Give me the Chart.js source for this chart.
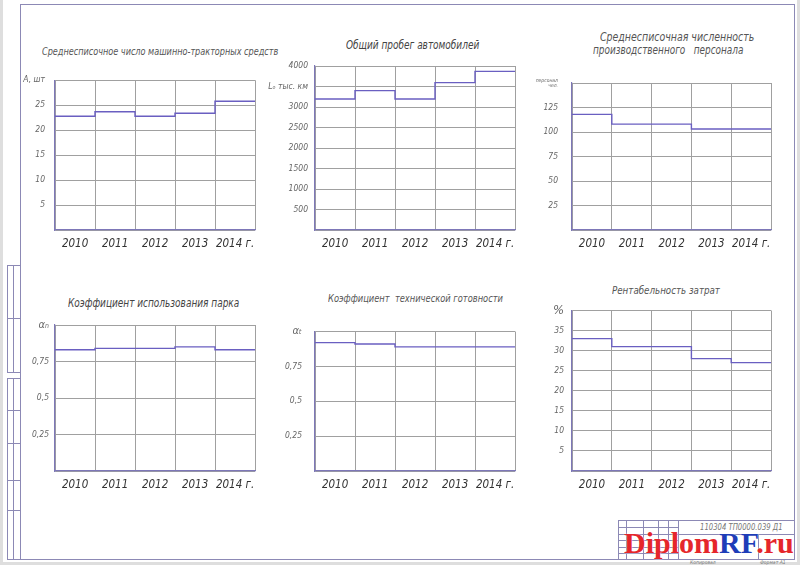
<!DOCTYPE html>
<html>
<head>
<meta charset="utf-8">
<script src="https://cdn.jsdelivr.net/npm/chart.js@4/dist/chart.umd.min.js"></script>
<style>
  html, body { margin: 0; padding: 0; }
  body { width: 800px; height: 565px; background: #dedede; position: relative; overflow: hidden; }
  #sheet { position: absolute; left: 3px; top: 0; width: 794px; height: 562px; background: #fff; }
  .ln { position: absolute; border: 0 solid #8c89b5; box-sizing: border-box; }
  .box { position: absolute; border: 1px solid #8c89b5; box-sizing: border-box; }
  .ttl { position: absolute; font-family: 'DejaVu Sans Condensed', 'Liberation Sans Narrow', sans-serif;
         font-style: italic; color: #555; white-space: nowrap; line-height: 14px; transform-origin: 0 0; }
  .cw { position: absolute; }
  .small { position: absolute; font-family: 'DejaVu Sans Condensed', sans-serif; font-style: italic; color: #777; white-space: nowrap; }
  #wm { position: absolute; left: 624px; top: 528px; font-family: 'Liberation Serif', serif; font-weight: bold;
        font-size: 30px; line-height: 30px; color: #e5262b; text-shadow: 0 0 2px #fff; white-space: nowrap; }
  #wm span { color: #1e3db8; }
</style>
</head>
<body>
<div id="sheet"></div>

<!-- drawing frame -->
<div class="box" style="left:20px;top:4px;width:775px;height:556px;"></div>
<!-- side stamp boxes -->
<div class="box" style="left:7px;top:265px;width:14px;height:108px;"></div>
<div class="ln" style="left:7px;top:318px;width:14px;border-top-width:1px;"></div>
<div class="ln" style="left:13px;top:265px;height:108px;border-left-width:1px;"></div>
<div class="box" style="left:7px;top:378px;width:14px;height:182px;"></div>
<div class="ln" style="left:7px;top:410px;width:14px;border-top-width:1px;"></div>
<div class="ln" style="left:7px;top:443px;width:14px;border-top-width:1px;"></div>
<div class="ln" style="left:7px;top:480px;width:14px;border-top-width:1px;"></div>
<div class="ln" style="left:7px;top:510px;width:14px;border-top-width:1px;"></div>
<div class="ln" style="left:13px;top:378px;height:182px;border-left-width:1px;"></div>
<!-- title block -->
<div class="box" style="left:618px;top:520px;width:177px;height:40px;"></div>
<div class="ln" style="left:626px;top:520px;height:40px;border-left-width:1px;"></div>
<div class="ln" style="left:643px;top:520px;height:40px;border-left-width:1px;"></div>
<div class="ln" style="left:658px;top:520px;height:40px;border-left-width:1px;"></div>
<div class="ln" style="left:668px;top:520px;height:40px;border-left-width:1px;"></div>
<div class="ln" style="left:678px;top:520px;height:40px;border-left-width:1px;"></div>
<div class="ln" style="left:618px;top:527px;width:60px;border-top-width:1px;"></div>
<div class="ln" style="left:618px;top:540px;width:60px;border-top-width:1px;"></div>
<div class="ln" style="left:618px;top:547px;width:60px;border-top-width:1px;"></div>
<div class="ln" style="left:618px;top:553px;width:60px;border-top-width:1px;"></div>
<div class="ln" style="left:618px;top:534px;width:177px;border-top-width:1px;"></div>
<div class="ln" style="left:758px;top:534px;height:26px;border-left-width:1px;"></div>
<div class="small" style="left:700px;top:522px;font-size:9px;transform:scaleX(0.85);transform-origin:0 0;">110304 ТП0000.039 Д1</div>
<div class="small" style="left:690px;top:559px;font-size:5px;">Копировал</div>
<div class="small" style="left:760px;top:559px;font-size:5px;">Формат А1</div>

<!-- chart titles: [centre x, top, font size, horizontal squeeze] -->
<div class="ttl" data-c="160,45,11,0.82">Среднесписочное число машинно-тракторных средств</div>
<div class="ttl" data-c="413,38,12,0.83" style="color:#444;">Общий пробег автомобилей</div>
<div class="ttl" data-c="677,30,11.5,0.91">Среднесписочная численность</div>
<div class="ttl" data-c="668,43,11.5,0.86">производственного&nbsp;&nbsp; персонала</div>
<div class="ttl" data-c="153,296,12,0.83" style="color:#444;">Коэффициент использования парка</div>
<div class="ttl" data-c="415,292,11,0.84">Коэффициент&nbsp; технической готовности</div>
<div class="ttl" data-c="666,284,11,0.88">Рентабельность затрат</div>

<div class="cw" id="w1"><canvas id="c1"></canvas></div>
<div class="cw" id="w2"><canvas id="c2"></canvas></div>
<div class="cw" id="w3"><canvas id="c3"></canvas></div>
<div class="cw" id="w4"><canvas id="c4"></canvas></div>
<div class="cw" id="w5"><canvas id="c5"></canvas></div>
<div class="cw" id="w6"><canvas id="c6"></canvas></div>

<div id="wm">Diplom<span>RF</span>.ru</div>

<script>
'use strict';

// years along the bottom of every chart
var years = ['2010', '2011', '2012', '2013', '2014 г.'];

// series values
var tractors   = [22.8, 23.7, 22.8, 23.4, 25.8];
var mileage    = [3195, 3400, 3195, 3595, 3870];
var staff      = [118, 108, 108, 103, 103];
var parkUse    = [0.83, 0.84, 0.84, 0.85, 0.83];
var techReady  = [0.92, 0.91, 0.89, 0.89, 0.89];
var profit     = [33, 31, 31, 28, 27];

// y tick labels, bottom to top
var tractorTicks = ['', '5', '10', '15', '20', '25', 'A, шт'];
var mileageTicks = ['', '500', '1000', '1500', '2000', '2500', '3000', 'Lₒ тыс. км', '4000'];
var staffTicks   = ['', '25', '50', '75', '100', '125', ['персонал', 'чел.']];
var parkTicks    = ['', '0,25', '0,5', '0,75', 'αₙ'];
var techTicks    = ['', '0,25', '0,5', '0,75', 'αₜ'];
var profitTicks  = ['', '5', '10', '15', '20', '25', '30', '35', '%'];

var FONT = "'DejaVu Sans Condensed', 'Liberation Sans Narrow', sans-serif";
var LINE = '#6a5fc1';
var AXIS = '#7d77b8';
var GRID = '#a0a0a0';
var YW = 50, XH = 30, PT = 12, PR = 6;

// place the HTML titles: centred, squeezed to the narrow drafting lettering
Array.prototype.forEach.call(document.querySelectorAll('.ttl'), function(el) {
    var c = el.getAttribute('data-c').split(',').map(Number);
    el.style.fontSize = c[2] + 'px';
    el.style.top = c[1] + 'px';
    var w = el.offsetWidth * c[3];
    el.style.left = (c[0] - w / 2) + 'px';
    el.style.transform = 'scaleX(' + c[3] + ')';
});

function stepPoints(values) {
    var pts = values.map(function(v, i) { return { x: i, y: v }; });
    pts.push({ x: values.length, y: values[values.length - 1] });
    return pts;
}

function makeChart(n, box, values, yMax, yStep, tickLabels, yPad, unitSize) {
    var wrap = document.getElementById('w' + n);
    wrap.style.left = (box[0] - YW) + 'px';
    wrap.style.top = (box[1] - PT) + 'px';
    wrap.style.width = (box[2] - box[0] + YW + PR) + 'px';
    wrap.style.height = (box[3] - box[1] + PT + XH) + 'px';
    var lastIdx = tickLabels.length - 1;

    return new Chart(document.getElementById('c' + n), {
        type: 'line',
        data: {
            datasets: [{
                data: stepPoints(values),
                stepped: 'before',
                borderColor: LINE,
                borderWidth: 1.4,
                pointRadius: 0,
                fill: false
            }]
        },
        options: {
            responsive: true,
            maintainAspectRatio: false,
            animation: false,
            layout: { autoPadding: false, padding: { top: PT, right: PR, left: 0, bottom: 0 } },
            plugins: { legend: { display: false }, tooltip: { enabled: false } },
            scales: {
                x: {
                    type: 'linear',
                    min: 0,
                    max: years.length,
                    grid: { color: GRID, lineWidth: 1, drawTicks: false },
                    border: { color: AXIS, width: 1.2 },
                    afterFit: function(s) { s.height = XH; },
                    ticks: {
                        stepSize: 1,
                        padding: 7,
                        labelOffset: (box[2] - box[0]) / years.length / 2,
                        maxRotation: 0,
                        autoSkip: false,
                        color: '#333',
                        font: { family: FONT, size: 11.5, style: 'italic' },
                        callback: function(v, i) { return years[i] || ''; }
                    }
                },
                y: {
                    min: 0,
                    max: yMax,
                    grid: { color: GRID, lineWidth: 1, drawTicks: false },
                    border: { color: AXIS, width: 1.2 },
                    afterFit: function(s) { s.width = YW; },
                    ticks: {
                        stepSize: yStep,
                        padding: yPad,
                        autoSkip: false,
                        color: '#666',
                        font: function(ctx) {
                            var sz = (ctx.index === lastIdx && unitSize) ? unitSize : 8.5;
                            return { family: FONT, size: sz, style: 'italic', lineHeight: 1 };
                        },
                        callback: function(v, i) { return tickLabels[i]; }
                    }
                }
            }
        }
    });
}

makeChart(1, [55, 78, 256, 230],  tractors,  30,   5,    tractorTicks, 10, 8.5);
makeChart(2, [315, 66, 516, 230], mileage,   4000, 500,  mileageTicks, 7, 8.5);
makeChart(3, [572, 76, 772, 230], staff,     150,  25,   staffTicks,   14, 5);
makeChart(4, [55, 325, 256, 471], parkUse,   1,    0.25, parkTicks,    6, 11);
makeChart(5, [315, 325, 516, 471], techReady, 1,   0.25, techTicks,    13, 11);
makeChart(6, [572, 308, 772, 471], profit,   40,   5,    profitTicks,  8, 13);
</script>
</body>
</html>
